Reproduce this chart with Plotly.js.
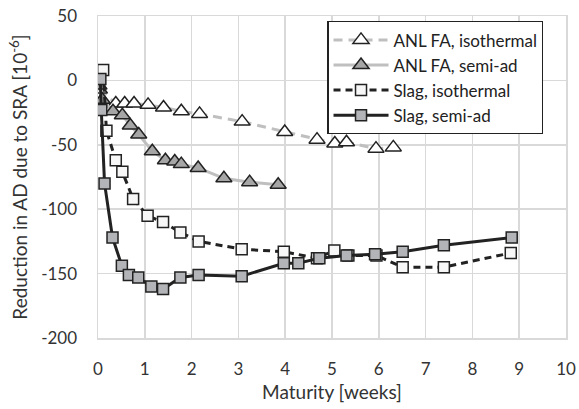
<!DOCTYPE html>
<html>
<head>
<meta charset="utf-8">
<script src="https://cdn.plot.ly/plotly-3.0.1.min.js"></script>
<style>
  html, body { margin: 0; padding: 0; background: #fff; }
  #chart { width: 579px; height: 409px; }
</style>
</head>
<body>
<div id="chart"></div>
<script>
// Maturity in weeks and reduction in autogenous deformation (10^-6)
const anlIsoX   = [0.03, 0.38, 0.57, 0.77, 1.07, 1.40, 1.78, 2.17, 3.08, 3.99, 4.68, 5.06, 5.31, 5.94, 6.31];
const anlIsoY   = [-7, -18, -18, -18, -19, -21, -24, -26, -32, -40, -46, -49, -48, -53, -52];

const anlSemiX  = [0.02, 0.09, 0.32, 0.52, 0.69, 0.87, 1.16, 1.44, 1.64, 1.78, 2.14, 2.69, 3.24, 3.85];
const anlSemiY  = [-4, -15, -24, -27, -35, -42, -55, -62, -63, -65, -68, -76, -79, -81];

const slagIsoX  = [0.0, 0.11, 0.18, 0.38, 0.52, 0.75, 1.06, 1.39, 1.76, 2.15, 3.07, 3.97, 4.68, 5.05, 5.35, 5.95, 6.51, 7.39, 8.82];
const slagIsoY  = [2, 8, -39, -62, -71, -92, -105, -110, -118, -125, -131, -133, -138, -132, -136, -136, -145, -145, -134];

const slagSemiX = [0.05, 0.07, 0.14, 0.31, 0.51, 0.66, 0.86, 1.14, 1.39, 1.76, 2.15, 3.07, 3.97, 4.28, 4.73, 5.31, 5.92, 6.51, 7.39, 8.84];
const slagSemiY = [1, -23, -80, -122, -144, -151, -153, -160, -162, -153, -151, -152, -142, -142, -138, -136, -135, -133, -128, -122];

const seriesNames = ['ANL FA, isothermal', 'ANL FA, semi-ad', 'Slag, isothermal', 'Slag, semi-ad'];
const xTicks = [0, 1, 2, 3, 4, 5, 6, 7, 8, 9, 10];
const yTicks = [50, 0, -50, -100, -150, -200];

const FONT = 'Lato, "Open Sans", sans-serif';
const OUTLINE = '#222222';

function trace(x, y, name, lineColor, dash, symbol, fill, size, group) {
  return {
    type: 'scatter',
    mode: 'lines+markers',
    x: x, y: y, name: name,
    legendgroup: group,
    line: { color: lineColor, width: 3, dash: dash },
    marker: { symbol: symbol, size: size, color: fill, line: { color: OUTLINE, width: 1.5 } },
    hoverinfo: 'x+y+name'
  };
}

const data = [
  trace(anlIsoX, anlIsoY, seriesNames[0], '#bfbfbf', '9px,6px', 'triangle-up', '#ffffff', 14, 'a'),
  trace(anlSemiX, anlSemiY, seriesNames[1], '#bfbfbf', 'solid', 'triangle-up', '#a6a6a6', 14, 'b'),
  trace(slagIsoX, slagIsoY, seriesNames[2], '#222222', '7px,5px', 'square', '#f7f7f7', 11, 'c'),
  trace(slagSemiX, slagSemiY, seriesNames[3], '#222222', 'solid', 'square', '#b3b4b7', 11, 'd')
];

const gridColor = '#d9d9d9';

const layout = {
  width: 579, height: 409,
  margin: { l: 98, r: 13, t: 16, b: 71 },
  paper_bgcolor: '#ffffff',
  plot_bgcolor: '#ffffff',
  font: { family: FONT, size: 17, color: '#333333' },
  showlegend: true,
  legend: {
    x: 0.49, y: 0.984, xanchor: 'left', yanchor: 'top',
    bgcolor: '#ffffff', bordercolor: '#222222', borderwidth: 1.2,
    font: { family: FONT, size: 17, color: '#222222' },
    tracegroupgap: 6,
    itemwidth: 55,
    traceorder: 'normal'
  },
  xaxis: {
    range: [0, 10],
    tickvals: xTicks,
    ticktext: xTicks.map(String),
    showgrid: true, gridcolor: gridColor, gridwidth: 1.5,
    zeroline: false,
    showline: true, linecolor: gridColor, linewidth: 1.5, mirror: true,
    ticks: '', ticklabelstandoff: 15,
    tickfont: { family: FONT, size: 17, color: '#333333' },
    title: { text: 'Maturity [weeks]', font: { family: FONT, size: 19, color: '#333333' }, standoff: 8 },
    fixedrange: true
  },
  yaxis: {
    range: [-200, 50],
    tickvals: yTicks,
    ticktext: yTicks.map(String),
    showgrid: true, gridcolor: gridColor, gridwidth: 1.5,
    zeroline: false,
    showline: true, linecolor: gridColor, linewidth: 1.5, mirror: true,
    ticks: '', ticklabelstandoff: 16,
    tickfont: { family: FONT, size: 17, color: '#333333' },
    title: { text: 'Reduction in AD due to SRA [10<sup>-6</sup>]', font: { family: FONT, size: 19, color: '#333333' }, standoff: 8 },
    fixedrange: true
  }
};

Plotly.newPlot('chart', data, layout, { displayModeBar: false, staticPlot: true });
</script>
</body>
</html>
